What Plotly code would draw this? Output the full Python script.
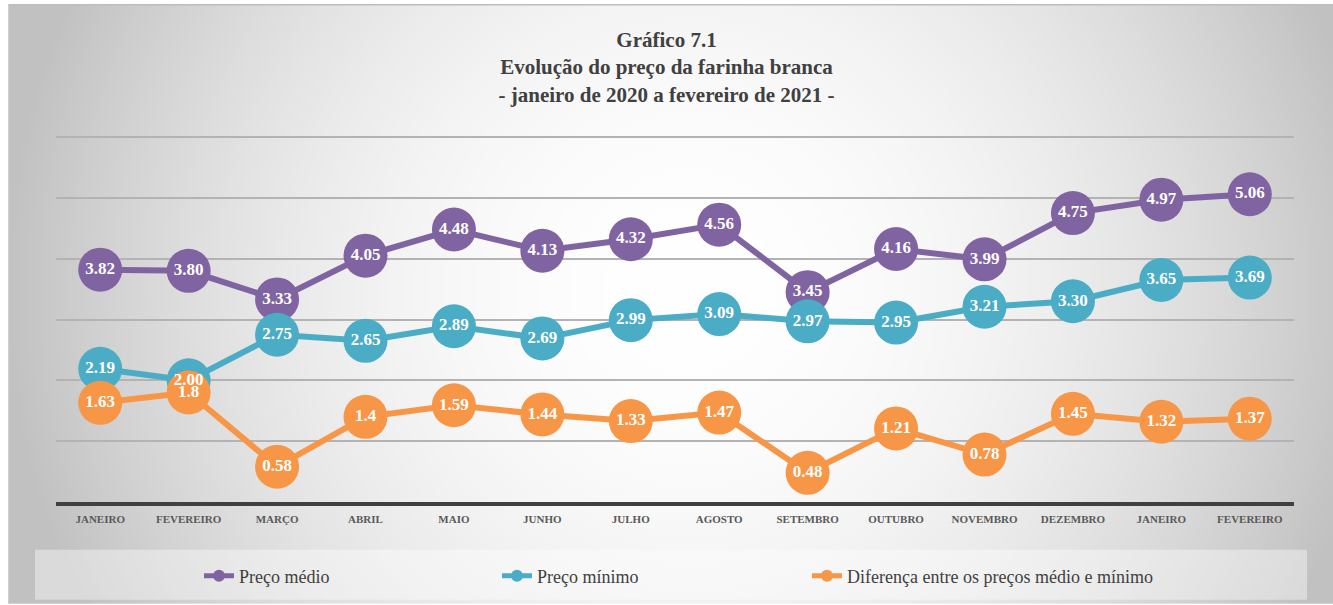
import base64, zlib, struct
import numpy as np
import plotly.graph_objects as go

# ---------------- data ----------------
meses = ["JANEIRO", "FEVEREIRO", "MARÇO", "ABRIL", "MAIO", "JUNHO", "JULHO",
         "AGOSTO", "SETEMBRO", "OUTUBRO", "NOVEMBRO", "DEZEMBRO", "JANEIRO", "FEVEREIRO"]
preco_medio = [3.82, 3.80, 3.33, 4.05, 4.48, 4.13, 4.32, 4.56, 3.45, 4.16, 3.99, 4.75, 4.97, 5.06]
preco_minimo = [2.19, 2.00, 2.75, 2.65, 2.89, 2.69, 2.99, 3.09, 2.97, 2.95, 3.21, 3.30, 3.65, 3.69]
diferenca = [1.63, 1.8, 0.58, 1.4, 1.59, 1.44, 1.33, 1.47, 0.48, 1.21, 0.78, 1.45, 1.32, 1.37]

nomes = ["Preço médio", "Preço mínimo", "Diferença entre os preços médio e mínimo"]
cores = ["#8064A2", "#4BACC6", "#F79646"]

idx = list(range(len(meses)))
lab_medio = [f"{v:.2f}" for v in preco_medio]
lab_minimo = [f"{v:.2f}" for v in preco_minimo]
lab_dif = [str(v) for v in diferenca]

# ---------------- geometry ----------------
W, H = 1333, 605
L, R, T, B = 56, 39, 134, 102
PW, PH = W - L - R, H - T - B
fx0, fy0, fx1, fy1 = 8, 4, 1333, 605


def px2x(p):
    return (p - L) / PW


def py2y(p):
    return (H - B - p) / PH


# ---------------- background gradient (radial) ----------------
def png_bytes(arr):
    h, w = arr.shape
    raw = b"".join(b"\x00" + arr[i].tobytes() for i in range(h))

    def chunk(t, d):
        return struct.pack(">I", len(d)) + t + d + struct.pack(">I", zlib.crc32(t + d) & 0xffffffff)

    return (b"\x89PNG\r\n\x1a\n"
            + chunk(b"IHDR", struct.pack(">IIBBBBB", w, h, 8, 0, 0, 0, 0))
            + chunk(b"IDAT", zlib.compress(raw, 9))
            + chunk(b"IEND", b""))


sc = 4
gw, gh = (fx1 - fx0) // sc, (fy1 - fy0) // sc
gx = fx0 + (np.arange(gw) + 0.5) * sc
gy = fy0 + (np.arange(gh) + 0.5) * sc
XX, YY = np.meshgrid(gx, gy)
cx, cy, rad = 690.0, 290.0, 690.0
d = np.sqrt((XX - cx) ** 2 + (YY - cy) ** 2) / rad
val = 255 - 62 * np.minimum(d, 1.0) ** 2
grad = np.clip(val, 0, 255).astype(np.uint8)
img_src = "data:image/png;base64," + base64.b64encode(png_bytes(grad)).decode()

# ---------------- figure ----------------
fig = go.Figure()
series = [(preco_medio, lab_medio), (preco_minimo, lab_minimo), (diferenca, lab_dif)]
legend_ids = ["legend", "legend2", "legend3"]
for (vals, _), nome, cor, lg in zip(series, nomes, cores, legend_ids):
    fig.add_trace(go.Scatter(
        x=idx, y=vals, mode="lines+markers", name=nome, legend=lg,
        line=dict(color=cor, width=6),
        marker=dict(size=44, color=cor),
        hoverinfo="skip",
    ))
for (vals, labs), cor in zip(series, cores):
    fig.add_trace(go.Scatter(
        x=idx, y=vals, mode="text", text=labs, showlegend=False,
        textposition="middle center",
        textfont=dict(family="Liberation Serif", size=17, color="white", weight="bold"),
        hoverinfo="skip",
    ))

legend_font = dict(family="Liberation Serif", size=18, color="#404040")


def leg(text_start_px):
    return dict(
        orientation="h", x=px2x(text_start_px - 41), xanchor="left",
        y=py2y(576), yanchor="middle",
        itemsizing="constant", bgcolor="rgba(0,0,0,0)",
        font=legend_font,
    )


fig.update_layout(
    width=W, height=H,
    margin=dict(l=L, r=R, t=T, b=B),
    paper_bgcolor="white",
    plot_bgcolor="rgba(0,0,0,0)",
    title=dict(
        text="Gráfico 7.1<br>Evolução do preço da farinha branca<br>- janeiro de 2020 a fevereiro de 2021 -",
        x=0.5, xanchor="center", xref="container",
        y=1 - 47 / H, yanchor="top", yref="container",
        font=dict(family="Liberation Serif", size=21, color="#404040", weight="bold"),
    ),
    xaxis=dict(
        range=[-0.5, 13.5], tickvals=idx, ticktext=meses,
        showgrid=False, zeroline=False, showline=True,
        linecolor="#404040", linewidth=4, ticks="",
        ticklabelstandoff=4,
        tickfont=dict(family="Liberation Serif", size=11, color="#595959", weight="bold"),
        fixedrange=True,
    ),
    yaxis=dict(
        range=[0, 6.05], tickvals=[1, 2, 3, 4, 5, 6], showticklabels=False,
        showgrid=True, gridcolor="#b3b3b3", gridwidth=1.5,
        zeroline=False, showline=False, fixedrange=True,
    ),
    showlegend=True,
    legend=leg(240),
    legend2=leg(538),
    legend3=leg(848),
    images=[dict(
        source=img_src, xref="paper", yref="paper",
        x=px2x(fx0), y=py2y(fy0),
        sizex=(fx1 - fx0) / PW, sizey=(fy1 - fy0) / PH,
        sizing="stretch", xanchor="left", yanchor="top", layer="below",
    )],
    shapes=[
        dict(type="rect", xref="paper", yref="paper",
             x0=px2x(35), x1=px2x(1307), y0=py2y(601), y1=py2y(551),
             fillcolor="rgba(255,255,255,0.4)", line=dict(width=0), layer="below"),
        dict(type="line", xref="paper", yref="paper",
             x0=px2x(fx0), x1=px2x(fx1), y0=py2y(fy0 + 0.5), y1=py2y(fy0 + 0.5),
             line=dict(color="#bdbdbd", width=1.5), layer="below"),
        dict(type="line", xref="paper", yref="paper",
             x0=px2x(fx0 + 0.5), x1=px2x(fx0 + 0.5), y0=py2y(fy0), y1=py2y(fy1),
             line=dict(color="#d0d0d0", width=1), layer="below"),
    ],
    hovermode=False,
)

fig.write_html(
    "out.html",
    config={"displayModeBar": False},
    post_script="document.body.style.margin='0';document.body.style.overflow='hidden';",
)
